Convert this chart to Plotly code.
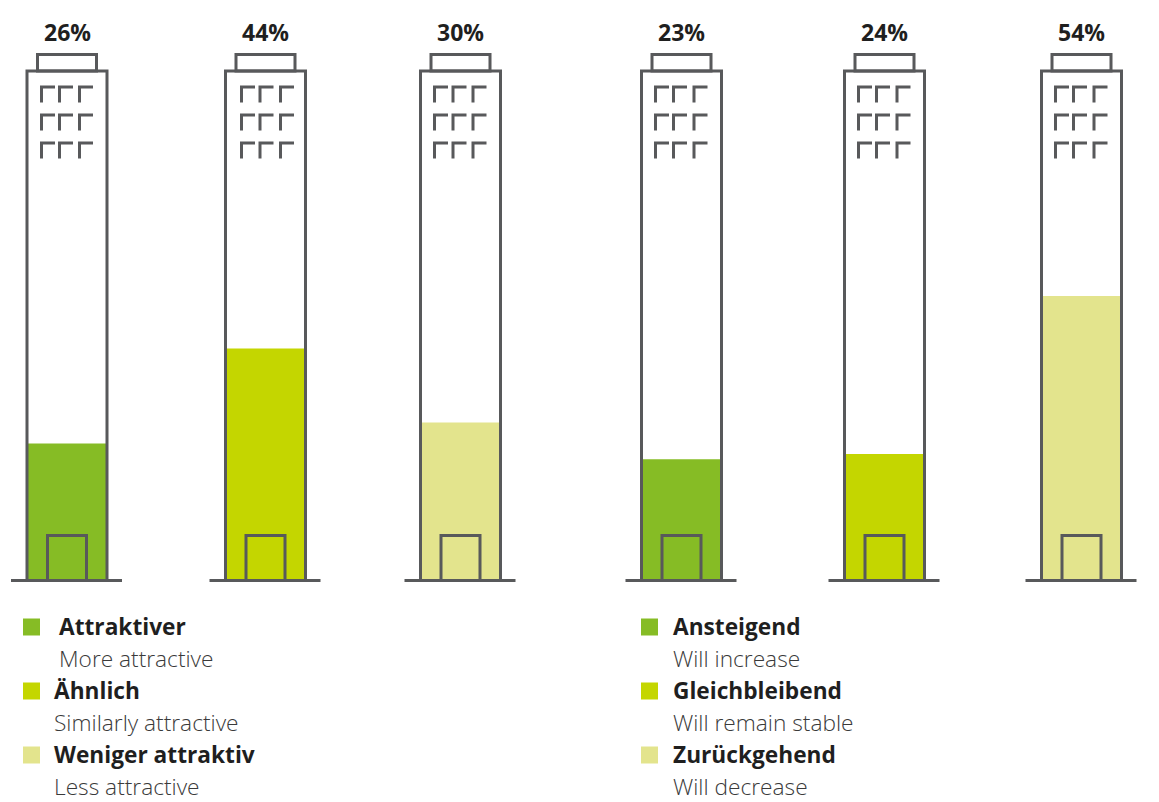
import plotly.graph_objects as go

# Data
values = [26, 44, 30, 23, 24, 54]
labels = ["26%", "44%", "30%", "23%", "24%", "54%"]
categories = ["Attraktiver", "Ähnlich", "Weniger attraktiv", "Ansteigend", "Gleichbleibend", "Zurückgehend"]
bar_colors = ["#86BC25", "#C4D600", "#E3E48D", "#86BC25", "#C4D600", "#E3E48D"]
legend_left_de = ["Attraktiver", "Ähnlich", "Weniger attraktiv"]
legend_left_en = ["More attractive", "Similarly attractive", "Less attractive"]
legend_right_de = ["Ansteigend", "Gleichbleibend", "Zurückgehend"]
legend_right_en = ["Will increase", "Will remain stable", "Will decrease"]
legend_colors = ["#86BC25", "#C4D600", "#E3E48D"]

# Layout constants
W, H = 1159, 802
centers = [67, 265.5, 460.5, 681.5, 884.5, 1081.5]
win_cols = [[-25.5, -7.5, 12.5], [-24, -5.5, 15], [-26, -7.5, 12.5], [-26, -8, 12.5], [-26, -8, 12.5], [-26, -8, 12.5]]
GROUND = 580.5
PX_PER_PCT = 5.27
LINE = "#58595B"
y_top = GROUND / PX_PER_PCT
y_bot = -(H - GROUND) / PX_PER_PCT
py = lambda p: 1 - p / H

fig = go.Figure()
fig.add_trace(go.Bar(
    x=centers, y=values, width=78, marker=dict(color=bar_colors, line_width=0),
    text=labels, hovertext=categories, textposition="none", showlegend=False,
))

shapes, ann = [], []


def box(x0, x1, y0, y1, width=3, fill=None):
    s = dict(type="rect", xref="x", yref="paper", x0=x0, x1=x1, y0=py(y1), y1=py(y0),
             line=dict(color=LINE, width=width) if width else dict(width=0))
    if fill:
        s["fillcolor"] = fill
    shapes.append(s)


def path(pts, width=3):
    d = "M" + " L".join(f"{x},{py(y)}" for x, y in pts)
    shapes.append(dict(type="path", xref="x", yref="paper", path=d, line=dict(color=LINE, width=width)))


for c, cols, lab in zip(centers, win_cols, labels):
    path([(c - 40, GROUND), (c - 40, 71), (c + 40, 71), (c + 40, GROUND)])
    box(c - 29.5, c + 29.5, 54.5, 71)
    box(c - 19.5, c + 19.5, 535.5, GROUND)
    path([(c - 56, GROUND), (c + 55, GROUND)])
    for top in (87, 115, 143):
        for dx in cols:
            path([(c + dx, top + 15.5), (c + dx, top), (c + dx + 13.5, top)])
    ann.append(dict(x=c, y=py(32.5), text=f"<b>{lab}</b>", showarrow=False, xref="x", yref="paper",
                    xanchor="center", yanchor="middle", font=dict(size=23, color="#1F1F1F")))


def legend(sq_x, txt_xs, de, en):
    rows = [(626, 658), (690, 722), (754, 786)]
    for i, ((y1, y2), d, e) in enumerate(zip(rows, de, en)):
        box(sq_x, sq_x + 17, y1 - 7.5, y1 + 9.5, width=0, fill=legend_colors[i])
        ann.append(dict(x=txt_xs[i], y=py(y1), text=f"<b>{d}</b>", showarrow=False, xref="x", yref="paper",
                        xanchor="left", yanchor="middle", font=dict(size=22.7, color="#1F1F1F")))
        ann.append(dict(x=txt_xs[i], y=py(y2), text=e, showarrow=False, xref="x", yref="paper",
                        xanchor="left", yanchor="middle",
                        font=dict(size=22.7, color="#3A3A3A", family="Open Sans", weight=300)))


legend(23, [56.5, 51.5, 51.5], legend_left_de, legend_left_en)
legend(641, [670.5, 670.5, 670.5], legend_right_de, legend_right_en)

fig.update_layout(
    width=W, height=H, autosize=False, margin=dict(l=0, r=0, t=0, b=0),
    paper_bgcolor="white", plot_bgcolor="white",
    font=dict(family="Open Sans"),
    xaxis=dict(range=[0, W], visible=False, fixedrange=True),
    yaxis=dict(range=[y_bot, y_top], visible=False, fixedrange=True),
    shapes=shapes, annotations=ann,
)
fig.write_html("out.html", config=dict(displayModeBar=False),
               post_script="document.body.style.margin='0';document.documentElement.style.overflow='hidden';")
